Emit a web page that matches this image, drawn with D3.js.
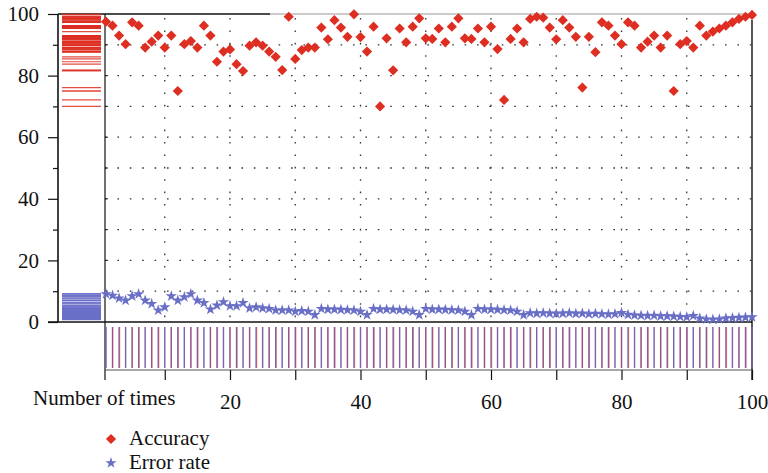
<!DOCTYPE html>
<html>
<head>
<meta charset="utf-8">
<script src="https://cdn.jsdelivr.net/npm/d3@7"></script>
<style>
  html, body { margin: 0; padding: 0; background: #fff; }
  svg { display: block; font-family: "Liberation Serif", "DejaVu Serif", serif; }
</style>
</head>
<body>
<svg id="chart" width="768" height="473"></svg>
<script>
// Run index (1..100)
const runs = d3.range(1, 101);

// Accuracy (%) per run
const accuracy = [
  97.5, 96.2, 93.0, 90.2, 97.3, 96.2, 89.1, 91.0, 93.0, 89.1,
  93.0, 75.0, 90.2, 91.2, 89.1, 96.2, 93.0, 84.5, 87.8, 88.5,
  83.7, 81.5, 89.7, 90.8, 89.7, 87.8, 86.1, 81.8, 99.1, 85.4,
  88.3, 89.1, 89.1, 95.6, 91.8, 98.0, 95.6, 92.6, 99.9, 92.5,
  87.8, 95.9, 70.0, 92.1, 81.7, 95.3, 90.8, 95.9, 98.6, 92.1,
  91.9, 95.3, 90.8, 95.9, 98.6, 92.1, 91.9, 95.3, 90.8, 95.9,
  88.6, 72.1, 91.9, 95.3, 90.8, 98.4, 99.1, 98.8, 95.6, 91.8,
  98.0, 95.6, 92.6, 76.1, 92.6, 87.6, 97.3, 96.2, 93.0, 90.2,
  97.3, 96.2, 89.1, 91.0, 93.0, 89.1, 93.0, 75.0, 90.2, 91.2,
  89.1, 96.2, 93.0, 94.3, 95.3, 96.2, 97.3, 98.4, 99.1, 99.7
];

// Error rate (%) per run
const errorRate = [
  9.1, 8.6, 7.7, 7.0, 8.4, 9.1, 7.0, 5.9, 3.8, 4.8,
  8.4, 7.0, 8.1, 9.1, 7.0, 6.2, 4.1, 5.4, 6.5, 5.2,
  5.2, 6.2, 4.5, 4.8, 4.5, 4.3, 3.8, 3.8, 3.8, 3.4,
  3.6, 3.4, 2.3, 4.3, 4.1, 4.1, 4.0, 3.9, 3.8, 3.4,
  2.3, 4.3, 4.1, 4.1, 4.0, 3.9, 3.8, 3.4, 2.3, 4.3,
  4.1, 4.1, 4.0, 3.9, 3.8, 3.4, 2.3, 4.3, 4.1, 4.1,
  4.0, 3.9, 3.8, 3.4, 2.3, 2.9, 2.8, 2.9, 2.8, 2.7,
  2.8, 2.9, 2.7, 2.8, 2.6, 2.7, 2.6, 2.5, 2.6, 3.0,
  2.4, 2.2, 2.1, 2.0, 2.1, 1.9, 1.9, 1.8, 1.7, 1.6,
  2.0, 1.2, 0.9, 0.8, 0.9, 1.2, 1.3, 1.4, 1.5, 1.6
];

const yTickLabels = [0, 20, 40, 60, 80, 100];
const xTickLabels = [20, 40, 60, 80, 100];
const seriesNames = ["Accuracy", "Error rate"];

const RED = "#de2e21";
const BLUE = "#6a6fc6";
const FONT_SIZE = 21;

const svg = d3.select("#chart");

// geometry
const plotL = 105, plotR = 752, plotT = 14, plotB = 322;
const axisX = 58;          // left value axis
const rugL = 62, rugR = 101;  // marginal rug (left)
const bRugT = 327, bRugB = 368, bAxisY = 370;

const x = d3.scaleLinear().domain([0, 100]).range([99.5, 752]);
const y = d3.scaleLinear().domain([0, 100]).range([plotB, plotT]);

// dotted grid
const grid = svg.append("g").attr("stroke", "#333").attr("stroke-width", 1.3)
  .attr("stroke-dasharray", "1.6,10.8");
grid.selectAll("line.h").data(d3.range(10, 100, 10)).join("line")
  .attr("x1", plotL).attr("x2", plotR)
  .attr("y1", d => y(d)).attr("y2", d => y(d));
grid.selectAll("line.v").data(d3.range(10, 100, 10)).join("line")
  .attr("x1", d => x(d)).attr("x2", d => x(d))
  .attr("y1", plotT + 4).attr("y2", plotB);

// short solid stubs where gridlines meet the plot's left edge
svg.append("g").selectAll("line").data(d3.range(10, 100, 10)).join("line")
  .attr("x1", plotL).attr("x2", plotL + 3)
  .attr("y1", d => y(d)).attr("y2", d => y(d))
  .attr("stroke", "#222").attr("stroke-width", 1);

// frame
svg.append("line").attr("x1", axisX).attr("x2", 270).attr("y1", plotT).attr("y2", plotT)
  .attr("stroke", "#111").attr("stroke-width", 1.6);
svg.append("line").attr("x1", 270).attr("x2", plotR).attr("y1", plotT).attr("y2", plotT)
  .attr("stroke", "#999").attr("stroke-width", 1.2);
svg.append("line").attr("x1", plotR).attr("x2", plotR).attr("y1", 20).attr("y2", 380)
  .attr("stroke", "#111").attr("stroke-width", 1.4);
svg.append("line").attr("x1", plotL).attr("x2", plotL).attr("y1", plotT).attr("y2", 380)
  .attr("stroke", "#111").attr("stroke-width", 1.2);
svg.append("line").attr("x1", 48).attr("x2", plotR).attr("y1", plotB).attr("y2", plotB)
  .attr("stroke", "#111").attr("stroke-width", 1.4);

// left value axis
const yAxis = d3.axisLeft(y).tickValues(yTickLabels).tickSize(10).tickPadding(9)
  .tickFormat(d3.format("d"));
const gy = svg.append("g").attr("transform", `translate(${axisX},0)`).call(yAxis);
gy.select(".domain").attr("stroke", "#111").attr("stroke-width", 1.6)
  .attr("d", `M0,${plotT}V${plotB}`);
gy.selectAll(".tick line").attr("stroke", "#111").attr("stroke-width", 1.2);
gy.selectAll(".tick text").attr("font-size", FONT_SIZE).attr("fill", "#111")
  .attr("font-family", "Liberation Serif, serif");
svg.append("g").attr("transform", `translate(${axisX},0)`)
  .call(d3.axisLeft(y).tickValues(d3.range(10, 100, 20)).tickSize(5).tickFormat(""))
  .call(g => g.select(".domain").remove())
  .call(g => g.selectAll(".tick line").attr("stroke", "#111").attr("stroke-width", 1.2));

// bottom index axis
const xAxis = d3.axisBottom(x).tickValues(d3.range(10, 101, 10)).tickSize(10).tickPadding(14)
  .tickFormat(d => xTickLabels.includes(d) ? d : "");
const gx = svg.append("g").attr("transform", `translate(0,${bAxisY})`).call(xAxis);
gx.select(".domain").attr("stroke", "#555").attr("stroke-width", 1.2)
  .attr("d", `M${plotL},0H${plotR}`);
gx.selectAll(".tick line").attr("stroke", "#111").attr("stroke-width", 1.2);
gx.selectAll(".tick text").attr("font-size", FONT_SIZE).attr("fill", "#111")
  .attr("font-family", "Liberation Serif, serif");

svg.append("text").attr("x", 33).attr("y", 405).attr("font-size", FONT_SIZE).attr("fill", "#111")
  .text("Number of times");

// left marginal rug: one line per value
svg.append("g").selectAll("line").data(accuracy).join("line")
  .attr("x1", rugL).attr("x2", rugR)
  .attr("y1", d => y(d)).attr("y2", d => y(d))
  .attr("stroke", RED).attr("stroke-width", 1.2).attr("stroke-opacity", 0.85);
svg.append("g").selectAll("line").data(errorRate).join("line")
  .attr("x1", rugL).attr("x2", rugR)
  .attr("y1", d => y(d)).attr("y2", d => y(d))
  .attr("stroke", BLUE).attr("stroke-width", 1.2).attr("stroke-opacity", 0.9);

// bottom marginal rug: one line per run for each series
svg.append("g").selectAll("line").data(runs).join("line")
  .attr("x1", d => x(d)).attr("x2", d => x(d))
  .attr("y1", bRugT).attr("y2", bRugB)
  .attr("stroke", BLUE).attr("stroke-width", 1.4);
svg.append("g").selectAll("line").data(runs).join("line")
  .attr("x1", d => x(d) + (d % 3 === 0 ? 0.6 : 0)).attr("x2", d => x(d) + (d % 3 === 0 ? 0.6 : 0))
  .attr("y1", bRugT).attr("y2", bRugB)
  .attr("stroke", RED).attr("stroke-width", 1.2).attr("stroke-opacity", d => d % 3 === 1 ? 0.2 : 0.5);

// series markers
const diamond = d3.symbol().type(d3.symbolSquare).size(52);
const star = d3.symbol().type(d3.symbolStar).size(40);

svg.append("g").selectAll("path").data(runs).join("path")
  .attr("d", diamond)
  .attr("transform", (d, i) => `translate(${x(d)},${y(accuracy[i])}) rotate(45)`)
  .attr("fill", RED);

svg.append("g").selectAll("path").data(runs).join("path")
  .attr("d", star)
  .attr("transform", (d, i) => `translate(${x(d)},${y(errorRate[i])})`)
  .attr("fill", BLUE);

// legend
const legend = svg.append("g");
legend.append("path").attr("d", diamond).attr("transform", "translate(111,439) rotate(45)").attr("fill", RED);
legend.append("path").attr("d", star).attr("transform", "translate(111,463)").attr("fill", BLUE);
legend.selectAll("text").data(seriesNames).join("text")
  .attr("x", 129).attr("y", (d, i) => 445 + i * 24)
  .attr("font-size", FONT_SIZE).attr("fill", "#111")
  .text(d => d);
</script>
</body>
</html>
